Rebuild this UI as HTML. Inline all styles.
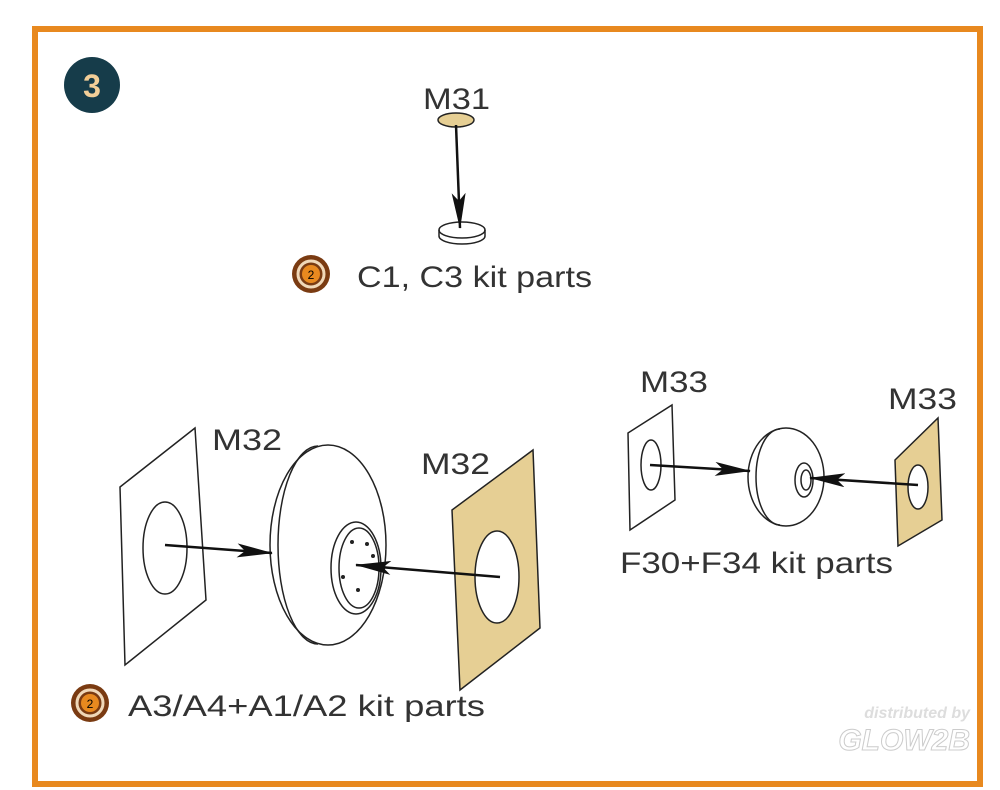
<!DOCTYPE html>
<html><head><style>
body{margin:0;background:#fff;}
svg{display:block;font-family:"Liberation Sans",sans-serif;}
</style></head><body>
<svg width="1000" height="790" viewBox="0 0 1000 790">
<rect width="1000" height="790" fill="#fff"/>
<rect x="35" y="29" width="945" height="755" fill="none" stroke="#e8891f" stroke-width="6"/>
<circle cx="92" cy="85" r="28" fill="#163c4a"/>
<text x="92" y="97" font-size="32" font-weight="bold" fill="#f2ce98" text-anchor="middle">3</text>
<defs><marker id="a" markerWidth="36" markerHeight="14" refX="35" refY="7" orient="auto" markerUnits="userSpaceOnUse" viewBox="0 0 36 14"><path d="M0,0 L36,7 L0,14 L8,7z" fill="#111"/></marker></defs>
<g stroke="#222" fill="none" stroke-width="1.5">
<ellipse cx="456" cy="120" rx="18" ry="7" fill="#e6cf94"/>
<ellipse cx="462" cy="230" rx="23" ry="8" fill="#fff"/>
<path d="M439,230 v6 a23,8 0 0 0 46,0 v-6"/>
<polygon points="120,487 195,428 206,600 125,665" fill="#fff"/>
<ellipse cx="165" cy="548" rx="22" ry="46"/>
<ellipse cx="328" cy="545" rx="58" ry="100" fill="#fff"/>
<path d="M318,446 A40,99 0 0 0 318,644"/>
<ellipse cx="356" cy="568" rx="25" ry="46"/>
<ellipse cx="359" cy="568" rx="20" ry="40"/>
<polygon points="452,510 533,450 540,628 460,690" fill="#e6cf94"/>
<ellipse cx="497" cy="577" rx="22" ry="46" fill="#fff"/>
<polygon points="628,433 672,405 675,500 630,530" fill="#fff"/>
<ellipse cx="651" cy="465" rx="10" ry="25"/>
<ellipse cx="786" cy="477" rx="38" ry="49" fill="#fff"/>
<path d="M780,429 A24,48 0 0 0 780,525"/>
<ellipse cx="804" cy="480" rx="9" ry="17"/>
<ellipse cx="806" cy="480" rx="5" ry="10"/>
<polygon points="895,460 938,418 942,520 898,546" fill="#e6cf94"/>
<ellipse cx="918" cy="487" rx="10" ry="22" fill="#fff"/>
</g>
<g fill="#222">
<circle cx="367" cy="544" r="2"/><circle cx="373" cy="556" r="2"/><circle cx="343" cy="577" r="2"/><circle cx="358" cy="590" r="2"/><circle cx="352" cy="542" r="2"/>
</g>
<g stroke="#111" stroke-width="2.5">
<line x1="456" y1="125" x2="460" y2="228" marker-end="url(#a)"/>
<line x1="165" y1="545" x2="272" y2="553" marker-end="url(#a)"/>
<line x1="500" y1="577" x2="356" y2="565" marker-end="url(#a)"/>
<line x1="650" y1="465" x2="750" y2="471" marker-end="url(#a)"/>
<line x1="918" y1="485" x2="810" y2="478" marker-end="url(#a)"/>
</g>
<g font-size="30" fill="#333" lengthAdjust="spacingAndGlyphs">
<text x="423" y="109" textLength="67" lengthAdjust="spacingAndGlyphs">M31</text>
<text x="357" y="287" textLength="235" lengthAdjust="spacingAndGlyphs">C1, C3 kit parts</text>
<text x="212" y="450" textLength="70" lengthAdjust="spacingAndGlyphs">M32</text>
<text x="421" y="474" textLength="69" lengthAdjust="spacingAndGlyphs">M32</text>
<text x="640" y="392" textLength="68" lengthAdjust="spacingAndGlyphs">M33</text>
<text x="888" y="409" textLength="69" lengthAdjust="spacingAndGlyphs">M33</text>
<text x="620" y="573" textLength="273" lengthAdjust="spacingAndGlyphs">F30+F34 kit parts</text>
<text x="128" y="716" textLength="357" lengthAdjust="spacingAndGlyphs">A3/A4+A1/A2 kit parts</text>
</g>
<g>
<circle cx="311" cy="274" r="19" fill="#7a3b12"/><circle cx="311" cy="274" r="13" fill="none" stroke="#f0d8b8" stroke-width="3"/><circle cx="311" cy="274" r="9" fill="#e8891f"/><text x="311" y="279" font-size="12" text-anchor="middle" fill="#000">2</text>
<circle cx="90" cy="703" r="19" fill="#7a3b12"/><circle cx="90" cy="703" r="13" fill="none" stroke="#f0d8b8" stroke-width="3"/><circle cx="90" cy="703" r="9" fill="#e8891f"/><text x="90" y="708" font-size="12" text-anchor="middle" fill="#000">2</text>
</g>
<text x="970" y="718" font-size="16" font-style="italic" font-weight="bold" fill="#ddd" text-anchor="end">distributed by</text>
<text x="970" y="750" font-size="30" font-style="italic" font-weight="bold" fill="none" stroke="#ccc" text-anchor="end">GLOW2B</text>
</svg>
</body></html>
